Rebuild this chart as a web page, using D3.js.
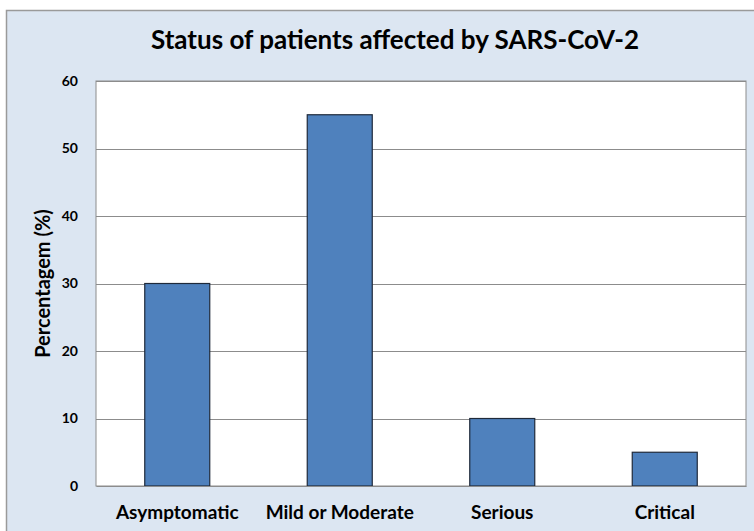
<!DOCTYPE html>
<html>
<head>
<meta charset="utf-8">
<script src="https://cdn.jsdelivr.net/npm/d3@7"></script>
<style>
  body { margin: 0; background: #fff; }
  text { font-family: Lato, "Open Sans", sans-serif; font-weight: bold; fill: #000; }
</style>
</head>
<body>
<div id="chart"></div>
<script>
const categories = ['Asymptomatic', 'Mild or Moderate', 'Serious', 'Critical'];
const values = [30, 55, 10, 5];
const yTicks = [0, 10, 20, 30, 40, 50, 60];
const title = 'Status of patients affected by SARS-CoV-2';
const yTitle = 'Percentagem (%)';

const width = 754;
const height = 531;
const margin = {top: 81, right: 8, bottom: 45, left: 96};

const svg = d3.select('#chart')
    .append('svg')
        .attr('width', width)
        .attr('height', height);

// outer chart frame
svg.append('rect')
    .attr('x', 6.5)
    .attr('y', 10.5)
    .attr('width', width)
    .attr('height', height)
    .attr('fill', '#dce6f2')
    .attr('stroke', '#9a9a9a')
    .attr('stroke-width', 1.5);

const x = d3.scaleBand()
    .domain(categories)
    .range([margin.left, width - margin.right])
    .paddingInner(0.6)
    .paddingOuter(0.3);

const y = d3.scaleLinear()
    .domain([0, 60])
    .range([height - margin.bottom, margin.top]);

// plot area
svg.append('rect')
    .attr('x', margin.left)
    .attr('y', margin.top)
    .attr('width', width - margin.right - margin.left)
    .attr('height', y(0) - y(60))
    .attr('fill', '#fff')
    .attr('stroke', '#8c8c8c');

// gridlines
svg.append('g')
    .selectAll('line')
    .data(yTicks.slice(1))
    .join('line')
        .attr('x1', margin.left)
        .attr('x2', width - margin.right)
        .attr('y1', d => Math.round(y(d)) + 0.5)
        .attr('y2', d => Math.round(y(d)) + 0.5)
        .attr('stroke', '#8c8c8c')
        .attr('stroke-width', 1);

const yAxis = g =>
    g
        .attr('transform', `translate(${margin.left},0)`)
        .call(d3.axisLeft(y)
            .tickValues(yTicks)
            .tickSize(0)
            .tickPadding(18))
        .call(g => g.select('.domain').remove())
        .call(g => g.selectAll('.tick text')
            .style('font-size', '14px')
            .style('font-family', 'Lato, sans-serif')
            .style('font-weight', 'bold'));

const xAxis = g =>
    g
        .attr('transform', `translate(0,${height - margin.bottom})`)
        .call(d3.axisBottom(x)
            .tickSize(0)
            .tickPadding(20))
        .call(g => g.select('.domain')
            .attr('stroke', '#8c8c8c'))
        .call(g => g.selectAll('.tick text')
            .style('font-size', '19px')
            .style('font-family', 'Lato, sans-serif')
            .style('font-weight', 'bold'));

svg.append('g')
    .call(yAxis);

svg.append('g')
    .selectAll('rect')
    .data(values)
    .join('rect')
        .attr('x', (d, i) => x(categories[i]))
        .attr('y', d => y(d))
        .attr('width', x.bandwidth())
        .attr('height', d => y(0) - y(d))
        .attr('fill', '#4f81bd')
        .attr('stroke', '#1f2a3a')
        .attr('stroke-width', 1.2);

svg.append('g')
    .call(xAxis);

svg.append('text')
    .attr('x', 395)
    .attr('y', 49)
    .attr('text-anchor', 'middle')
    .style('font-size', '26px')
    .text(title);

svg.append('text')
    .attr('transform', `translate(50,${(y(0) + y(60)) / 2}) rotate(-90)`)
    .attr('text-anchor', 'middle')
    .style('font-size', '20px')
    .text(yTitle);
</script>
</body>
</html>
